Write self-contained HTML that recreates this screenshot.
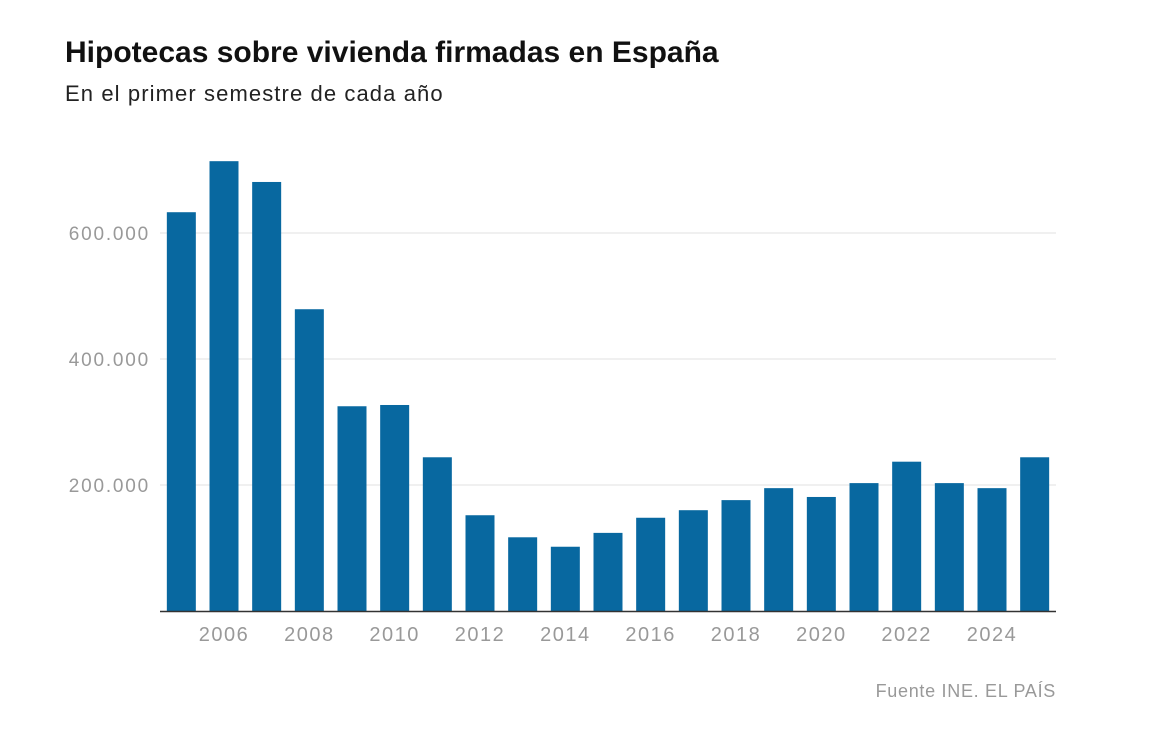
<!DOCTYPE html>
<html><head><meta charset="utf-8"><style>
html,body{margin:0;padding:0;background:#fff;width:1162px;height:732px;overflow:hidden;font-family:"Liberation Sans",sans-serif}
#title{position:absolute;left:65px;top:36px;font-size:30px;font-weight:bold;color:#111;letter-spacing:0px}
#sub{position:absolute;left:65px;top:81px;font-size:22px;color:#222;letter-spacing:1.1px}
#src{position:absolute;right:106px;top:681px;font-size:18px;color:#999;letter-spacing:0.7px}
svg{position:absolute;left:0;top:0}
</style></head><body>
<div id="title">Hipotecas sobre vivienda firmadas en España</div>
<div id="sub">En el primer semestre de cada año</div>
<svg id="chart" width="1162" height="732"></svg>
<div id="src">Fuente INE. EL PAÍS</div>
<script>
const years=[2005,2006,2007,2008,2009,2010,2011,2012,2013,2014,2015,2016,2017,2018,2019,2020,2021,2022,2023,2024,2025];
const values=[633000,714000,681000,479000,325000,327000,244000,152000,117000,102000,124000,148000,160000,176000,195000,181000,203000,237000,203000,195000,244000];
const yTicks=[200000,400000,600000];
const yTickLabels=["200.000","400.000","600.000"];
const xTickYears=[2006,2008,2010,2012,2014,2016,2018,2020,2022,2024];

const svg=document.getElementById('chart');
const NS='http://www.w3.org/2000/svg';
const x0=160,x1=1056,yBase=611,pxPer=126/200000;
const band=(x1-x0)/years.length,bw=29;
const y=v=>yBase-v*pxPer;
const xc=yr=>x0+(years.indexOf(yr)+0.5)*band;
function mk(t,a){const e=document.createElementNS(NS,t);for(const k in a)e.setAttribute(k,a[k]);svg.appendChild(e);return e;}
yTicks.forEach((t,i)=>{
  const g=mk('line',{x1:x0,x2:x1,y1:y(t),y2:y(t),stroke:'#e2e2e2','stroke-width':1});
  
  
  const l=mk('text',{x:150,y:y(t)+7,'text-anchor':'end','font-size':19,fill:'#999','letter-spacing':1.8,'font-family':'Liberation Sans, sans-serif'});
  l.textContent=yTickLabels[i];
  
  
});
years.forEach((yr,i)=>{
  const r=mk('rect',{x:xc(yr)-bw/2,y:y(values[i]),width:bw,height:yBase-y(values[i]),fill:'#0868a0'});
  
  
});
const ax=mk('line',{x1:x0,x2:x1,y1:yBase+0.5,y2:yBase+0.5,stroke:'#333','stroke-width':1.5});


xTickYears.forEach(yr=>{
  const t=mk('text',{x:xc(yr),y:641,'text-anchor':'middle','font-size':20,fill:'#999','letter-spacing':1.5,'font-family':'Liberation Sans, sans-serif'});
  t.textContent=yr;
  
  
});
</script>
</body></html>
